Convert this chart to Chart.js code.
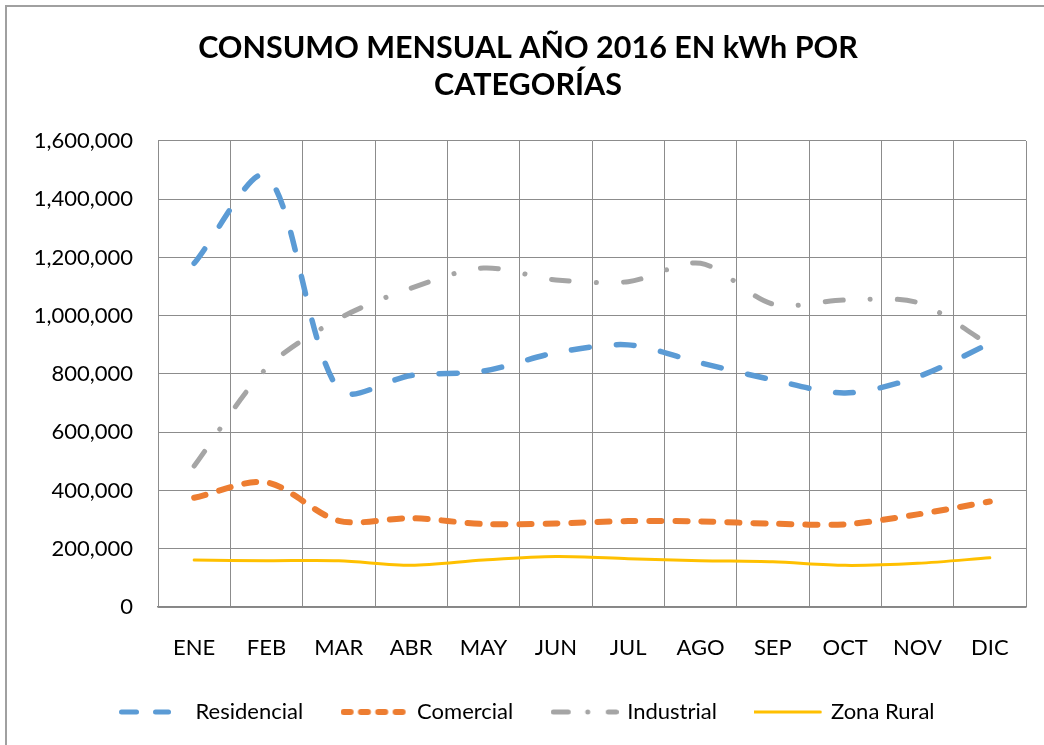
<!DOCTYPE html>
<html>
<head>
<meta charset="utf-8">
<script src="https://cdn.jsdelivr.net/npm/chart.js@4/dist/chart.umd.min.js"></script>
<style>
  html, body { margin: 0; padding: 0; background: #fff; overflow: hidden; }
  #wrap { position: relative; width: 1044px; height: 745px; }
  #frame { position: absolute; left: 5px; top: 5px; width: 1100px; height: 800px;
           border-left: 2px solid #a0a0a0; border-top: 2px solid #a0a0a0; }
  #chart { position: absolute; left: 0; top: 0; }
</style>
</head>
<body>
<div id="wrap">
  <div id="frame"></div>
  <canvas id="chart" width="1044" height="745"></canvas>
</div>
<script>
const months = ["ENE", "FEB", "MAR", "ABR", "MAY", "JUN", "JUL", "AGO", "SEP", "OCT", "NOV", "DIC"];
const residencial = [1180000, 1480000, 745000, 795000, 810000, 873000, 900000, 838000, 780000, 735000, 790000, 905000];
const comercial = [375000, 428000, 296000, 305000, 285000, 287000, 295000, 294000, 286000, 284000, 318000, 362000];
const industrial = [484000, 820000, 990000, 1095000, 1164000, 1123000, 1117000, 1180000, 1040000, 1054000, 1045000, 900000];
const zonaRural = [161000, 159000, 159000, 143000, 161000, 173000, 166000, 159000, 155000, 143000, 150000, 169000];
const yTicks = { min: 0, max: 1600000, step: 200000 };

const FONT = "Lato";
const ctx = document.getElementById("chart").getContext("2d");

// small legend swatches (Excel style line samples)
function swatch(color, width, segs) {
  const c = document.createElement("canvas");
  c.width = 68;
  c.height = 10;
  const g = c.getContext("2d");
  g.strokeStyle = color;
  g.fillStyle = color;
  g.lineWidth = width;
  g.lineCap = "round";
  segs.forEach(([a, b]) => {
    g.beginPath();
    if (a === b) {
      g.arc(a, 5, width / 2, 0, Math.PI * 2);
      g.fill();
    } else {
      g.moveTo(a, 5);
      g.lineTo(b, 5);
      g.stroke();
    }
  });
  return c;
}

const icons = [
  swatch("#5b9bd5", 5, [[2.5, 17.5], [36.5, 49.5]]),
  swatch("#ed7d31", 6, [[3, 10], [20.3, 27.3], [37.6, 44.6], [55, 62]]),
  swatch("#a5a5a5", 5, [[2.5, 17.5], [37, 37], [57.5, 65.5]]),
  swatch("#ffc000", 3, [[0, 66]])
];

function series(label, data, color, width, dash) {
  return {
    label,
    data,
    borderColor: color,
    backgroundColor: color,
    borderWidth: width,
    borderDash: dash,
    borderCapStyle: "round",
    pointRadius: 0,
    pointHoverRadius: 0,
    tension: 0.3,
    fill: false
  };
}

new Chart(ctx, {
  type: "line",
  data: {
    labels: months,
    datasets: [
      series("Residencial", residencial, "#5b9bd5", 5.5, [18, 27]),
      series("Comercial", comercial, "#ed7d31", 6, [12, 14]),
      series("Industrial", industrial, "#a5a5a5", 5, [18, 27, 0.1, 27]),
      series("Zona Rural", zonaRural, "#ffc000", 3, [])
    ]
  },
  options: {
    responsive: false,
    animation: false,
    locale: "en-US",
    layout: { padding: { left: 30, right: 18, top: 0, bottom: 12 } },
    plugins: {
      title: {
        display: true,
        text: ["CONSUMO MENSUAL AÑO 2016 EN kWh POR", "CATEGORÍAS"],
        color: "#000",
        font: { family: FONT, size: 30.5, weight: "bold", lineHeight: 1.213 },
        padding: { top: 30, bottom: 37 }
      },
      legend: {
        position: "bottom",
        labels: {
          color: "#000",
          font: { family: FONT, size: 22 },
          usePointStyle: true,
          pointStyleWidth: 63,
          boxHeight: 22,
          padding: 40,
          generateLabels: (chart) =>
            Chart.defaults.plugins.legend.labels.generateLabels(chart)
              .map((item, i) => ({ ...item, pointStyle: icons[i] }))
        }
      },
      tooltip: { enabled: false }
    },
    scales: {
      x: {
        offset: true,
        afterFit: (scale) => { scale.height = 54; },
        grid: { offset: true, color: "#8c8c8c", lineWidth: 1, drawTicks: false },
        border: { color: "#868686", width: 1.5 },
        ticks: { color: "#000", font: { family: FONT, size: 22 }, padding: 28, maxRotation: 0 }
      },
      y: {
        min: yTicks.min,
        max: yTicks.max,
        afterFit: (scale) => { scale.width = 128; },
        grid: { color: "#8c8c8c", lineWidth: 1, drawTicks: false },
        border: { color: "#8c8c8c", width: 1 },
        ticks: {
          stepSize: yTicks.step,
          color: "#000",
          font: { family: FONT, size: 22 },
          padding: 25,
          callback: (v) => v.toLocaleString("en-US")
        }
      }
    }
  }
});
</script>
</body>
</html>
